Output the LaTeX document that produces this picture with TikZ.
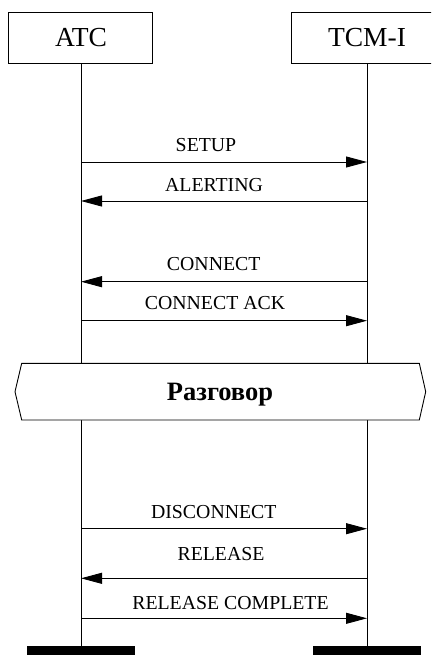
\documentclass[tikz,border=0pt]{standalone}
\usepackage{fontspec}
\setmainfont{Liberation Serif}
\usetikzlibrary{arrows.meta}
\begin{document}
\begin{tikzpicture}[x=1pt,y=-1pt,
  hdr/.style={draw,line width=0.9pt,minimum width=144pt,minimum height=51pt,inner sep=0pt},
  htxt/.style={anchor=base,inner sep=0pt,font=\fontsize{27.5}{32}\selectfont},
  life/.style={line width=1pt},
  msg/.style={line width=0.9pt,-{Triangle[length=21pt,width=11pt]}},
  lbl/.style={anchor=base,inner sep=0pt,font=\fontsize{19.8}{23}\selectfont},
  bar/.style={fill=black,draw=none}]
\useasboundingbox (0,0) rectangle (431,655);
\clip (0,0) rectangle (431,655);
% headers
\node[hdr] (atc) at (80.3,38.4) {};
\node[htxt] (atct) at (81,46.7) {ATC};
\node[hdr,minimum width=152pt] (tcm) at (367.5,38.4) {};
\node[htxt] (tcmt) at (367,46.7) {TCM-I};
% lifeline ends
\coordinate (Ltop) at (81,64);
\coordinate (Rtop) at (367,64);
\coordinate (Lbot) at (81,646);
\coordinate (Rbot) at (367,646);
\draw[life] (Ltop) -- (Lbot);
\draw[life] (Rtop) -- (Rbot);
% bottom bars
\node[bar,minimum width=108pt,minimum height=12pt,inner sep=0pt,anchor=north] (lbar) at (81,646) {};
\node[bar,minimum width=108pt,minimum height=12pt,inner sep=0pt,anchor=north] (rbar) at (366.5,646) {};
% messages
\coordinate (L1) at (81,162);   \coordinate (R1) at (367,162);
\coordinate (L2) at (81,201);   \coordinate (R2) at (367,201);
\coordinate (L3) at (81,281.7); \coordinate (R3) at (367,281.7);
\coordinate (L4) at (81,320.7); \coordinate (R4) at (367,320.7);
\coordinate (L5) at (81,528.7); \coordinate (R5) at (367,528.7);
\coordinate (L6) at (81,578.3); \coordinate (R6) at (367,578.3);
\coordinate (L7) at (81,618.3); \coordinate (R7) at (367,618.3);
\draw[msg] (L1) -- (R1);
\draw[msg] (R2) -- (L2);
\draw[msg] (R3) -- (L3);
\draw[msg] (L4) -- (R4);
\draw[msg] (L5) -- (R5);
\draw[msg] (R6) -- (L6);
\draw[msg] (L7) -- (R7);
\node[lbl] (t1) at (206,151.7) {SETUP};
\node[lbl] (t2) at (214,191.7) {ALERTING};
\node[lbl] (t3) at (213.7,270) {CONNECT};
\node[lbl] (t4) at (215,309.3) {CONNECT ACK};
\node[lbl] (t5) at (213.8,518.3) {DISCONNECT};
\node[lbl] (t6) at (221,560.7) {RELEASE};
\node[lbl] (t7) at (230.5,609) {RELEASE COMPLETE};
% conversation hexagon
\draw[line width=0.9pt,fill=white] (21.7,363.3) -- (419.3,363.3) -- (425.7,391.7) -- (419.3,420) -- (21.7,420) -- (15,391.7) -- cycle;
\node[anchor=base,inner sep=0pt,font=\bfseries\fontsize{26.5}{30}\selectfont] (talk) at (220,400) {Разговор};
\end{tikzpicture}
\end{document}
